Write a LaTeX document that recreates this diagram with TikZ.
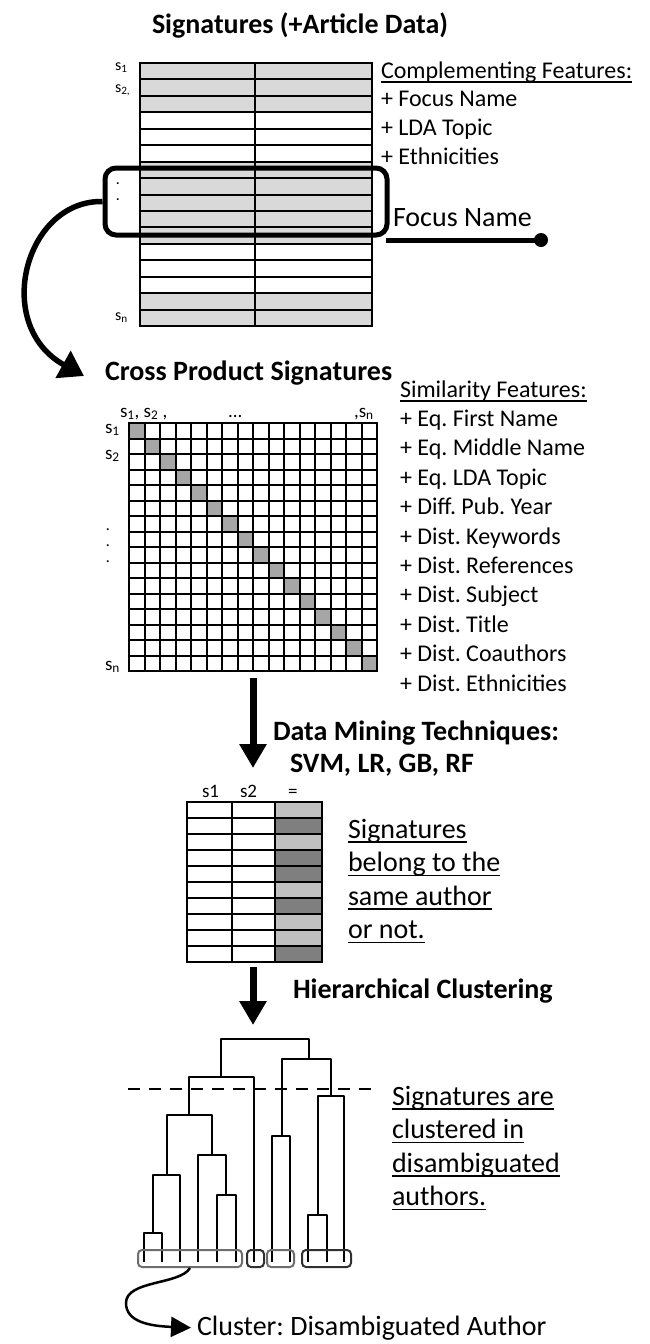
\documentclass[tikz,border=0pt]{standalone}
\usepackage{fontspec}
\setmainfont{Carlito}
\usetikzlibrary{arrows.meta,calc}
\definecolor{gA}{HTML}{D9D9D9}
\definecolor{gD}{HTML}{A6A6A6}
\definecolor{gL}{HTML}{C0C0C0}
\definecolor{gK}{HTML}{7F7F7F}
\definecolor{bxA}{HTML}{6E6E6E}
\definecolor{bxB}{HTML}{303030}
\newcommand\fBig{\fontsize{28}{33.5}\selectfont}
\newcommand\fMid{\fontsize{24}{29}\selectfont}
\newcommand\fSm{\fontsize{19}{22}\selectfont}
\newcommand\fTiny{\fontsize{16}{19}\selectfont}
\newcommand\fDot{\fontsize{13}{14}\selectfont}
\newcommand\myul[1]{\setbox0\hbox{#1}\rlap{\rule[-4.8pt]{\wd0}{1.7pt}}\box0}
\frenchspacing
\begin{document}
\begin{tikzpicture}[x=1pt,y=-1pt,
  txt/.style={anchor=base west,inner sep=0pt,outer sep=0pt},
  hd/.style={txt,font=\fBig\bfseries},
  big/.style={txt,font=\fBig},
  mid/.style={txt,font=\fMid},
  sm/.style={txt,font=\fSm},
  tiny/.style={txt,font=\fTiny},
  dotlbl/.style={txt,font=\fDot\bfseries},
  grid/.style={line width=2pt},
  fat/.style={line width=7pt,-{Triangle[length=24pt,width=26pt]}},
  dend/.style={line width=2.8pt,line join=round},
  leafbox/.style={draw,line width=2pt,rounded corners=4pt,inner sep=0pt,minimum height=17pt}]
\fill[white] (0,0) rectangle (650,1344);
\useasboundingbox (0,0) rectangle (650,1344);

% ---------- title ----------
\node[hd] (title) at (152,33) {Signatures (+Article Data)};

% ---------- top table ----------
\foreach \i in {0,1,2,6,7,8,9,10,14,15}
  \fill[gA] (140,{63+16.4375*\i}) rectangle (372,{63+16.4375*(\i+1)});
\foreach \i in {1,...,15}
  \draw[grid] (140,{63+16.4375*\i}) -- (372,{63+16.4375*\i});
\draw[line width=1.6pt] (255,63) -- (255,326);
\node[draw,line width=2.5pt,minimum width=232,minimum height=263,inner sep=0pt] (sigtab) at (256,194.5) {};
\node[tiny] (ls1) at (115,70) {s\textsubscript{1}};
\node[tiny] (ls2) at (115,92) {s\textsubscript{2,}};
\node[dotlbl] (ld1) at (116,184) {.};
\node[dotlbl] (ld2) at (116,200) {.};
\node[tiny] (lsn) at (115,320) {s\textsubscript{n}};

% complementing features
\node[mid] (cf0) at (381,78) {\myul{Complementing Features:}};
\node[mid] (cf1) at (381,106) {+ Focus Name};
\node[mid] (cf2) at (381,135) {+ LDA Topic};
\node[mid] (cf3) at (381,164) {+ Ethnicities};

% focus box
\node[draw,line width=5pt,rounded corners=11pt,minimum width=282,minimum height=67,inner sep=0pt] (fbox) at (246,201.5) {};
\node[big] (fname) at (393,226) {Focus Name};
\coordinate (fl) at (386,240);
\node[circle,fill,inner sep=0pt,minimum size=14pt] (dot) at (541,240) {};
\draw[line width=5pt] (fl) -- (dot.center);
\draw[line width=5.5pt,-{Triangle[length=24pt,width=30pt]}] (fbox.west) .. controls (25,200) and (-8,325) .. (84,376);

% ---------- cross product ----------
\node[hd] (cps) at (105,380) {Cross Product Signatures};
\foreach \i in {0,...,15}
  \fill[gD] ({129+15.5*\i},{423+15.5*\i}) rectangle ++(15.5,15.5);
\foreach \i in {1,...,15} {
  \draw[grid] ({129+15.5*\i},423) -- ++(0,248);
  \draw[grid] (129,{423+15.5*\i}) -- ++(248,0);
}
\node[draw,grid,minimum width=248,minimum height=248,inner sep=0pt] (mx) at (253,547) {};
\node[sm] (mt1) at (120,417) {s\textsubscript{1}, s\textsubscript{2} ,};
\node[sm] (mt2) at (228,417) {...};
\node[sm] (mt3) at (354,417) {,s\textsubscript{n}};
\node[sm] (ml1) at (105,433) {s\textsubscript{1}};
\node[sm] (ml2) at (105,459) {s\textsubscript{2}};
\node[dotlbl] (ml3) at (106,530) {.};
\node[dotlbl] (ml4) at (106,546) {.};
\node[dotlbl] (ml5) at (106,562) {.};
\node[sm] (mln) at (105,670) {s\textsubscript{n}};

% similarity features
\node[mid] (sf0) at (400,397) {\myul{Similarity Features:}};
\foreach \t [count=\k] in {+ Eq. First Name,+ Eq. Middle Name,+ Eq. LDA Topic,+ Diff. Pub. Year,+ Dist. Keywords,+ Dist. References,+ Dist. Subject,+ Dist. Title,+ Dist. Coauthors,+ Dist. Ethnicities}
  \node[mid] (sf\k) at (400,{397+29.4*\k}) {\t};

% arrow 1
\draw[fat] ($(mx.south)+(0,6)$) -- (253,768);
\node[hd] (dm1) at (273,740) {Data Mining Techniques:};
\node[hd] (dm2) at (290,772) {SVM, LR, GB, RF};

% ---------- pair table ----------
\foreach \i/\c in {0/gL,1/gK,2/gL,3/gK,4/gK,5/gL,6/gK,7/gL,8/gL,9/gK}
  \fill[\c] (275,{802+16*\i}) rectangle (322,{802+16*(\i+1)});
\foreach \i in {1,...,9}
  \draw[grid] (187,{802+16*\i}) -- (322,{802+16*\i});
\draw[grid] (232,802) -- (232,962);
\draw[grid] (275,802) -- (275,962);
\node[draw,line width=2.5pt,minimum width=135,minimum height=160,inner sep=0pt] (ptab) at (254.5,882) {};
\node[sm] (h1) at (202,797) {s1};
\node[sm] (h2) at (240,797) {s2};
\node[sm] (h3) at (288,797) {=};
\node[big] (sb1) at (348,838) {\myul{Signatures}};
\node[big] (sb2) at (348,871.5) {\myul{belong to the}};
\node[big] (sb3) at (348,905) {\myul{same author}};
\node[big] (sb4) at (348,938.5) {\myul{or not.}};

% arrow 2
\draw[fat] ($(ptab.south)+(-1.5,4)$) -- (253,1025);
\node[hd] (hc) at (293,998) {Hierarchical Clustering};

% ---------- dendrogram ----------
\draw[dend] (221,1077) |- (309,1039) -- (309,1059);
\draw[dend] (189,1115) |- (254,1077) -- (254,1262);
\draw[dend] (282,1136) |- (331,1059) -- (331,1096);
\draw[dend] (167,1175) |- (212,1115) -- (212,1155);
\draw[dend] (272,1262) |- (290,1136) -- (290,1262);
\draw[dend] (318,1215) |- (344,1096) -- (344,1262);
\draw[dend] (153,1233) |- (180,1175) -- (180,1262);
\draw[dend] (198,1262) |- (226,1155) -- (226,1195);
\draw[dend] (308,1262) |- (327,1215) -- (327,1262);
\draw[dend] (144,1262) |- (162,1233) -- (162,1262);
\draw[dend] (217,1262) |- (236,1195) -- (236,1262);
\draw[line width=2.8pt,dash pattern=on 12pt off 9pt] (128,1089) -- (372,1089);

\node[leafbox,draw=bxA,minimum width=104] (c1) at (190,1258.5) {};
\node[leafbox,draw=bxB,minimum width=17] (c2) at (255.5,1258.5) {};
\node[leafbox,draw=bxA,minimum width=27] (c3) at (280.5,1258.5) {};
\node[leafbox,draw=bxB,minimum width=49] (c4) at (326.5,1258.5) {};

\node[big] (sc1) at (392,1105) {\myul{Signatures are}};
\node[big] (sc2) at (392,1138.5) {\myul{clustered in}};
\node[big] (sc3) at (392,1172) {\myul{disambiguated}};
\node[big] (sc4) at (392,1205.5) {\myul{authors.}};

\node[big] (cl) at (197,1335) {Cluster: Disambiguated Author};
\draw[line width=2.5pt,-{Triangle[length=20pt,width=20pt]}] (c1.south) .. controls (180,1285) and (126,1280) .. (126,1303) .. controls (126,1322) and (150,1326) .. ($(cl.west)+(-6,0)$);
\end{tikzpicture}
\end{document}
